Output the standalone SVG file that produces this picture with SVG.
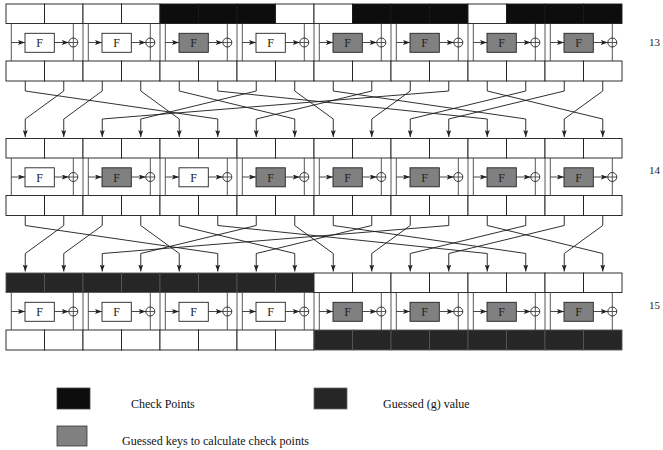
<svg xmlns="http://www.w3.org/2000/svg" xmlns:xlink="http://www.w3.org/1999/xlink" width="663" height="450" viewBox="0 0 663 450">
<style>
.cell{stroke:#1a1a1a;stroke-width:0.9}
.w{fill:#ffffff}
.cp{fill:#0d0d0d}
.gv{fill:#262626;stroke:#555}
.ml{stroke:#444;stroke-width:0.9;fill:none}
.ar{stroke:#333;stroke-width:0.9;fill:none;marker-end:url(#ah)}
.fw{fill:#ffffff;stroke:#222;stroke-width:0.9}
.fg{fill:#808080;stroke:#222;stroke-width:0.9}
.xo{fill:none;stroke:#222;stroke-width:0.9}
.ft{font-family:"Liberation Serif",serif;font-size:12px;fill:#222;text-anchor:middle}
.lb{font-family:"Liberation Serif",serif;font-size:11px;fill:#222}
.lg{font-family:"Liberation Serif",serif;font-size:12px;fill:#111}
.pm{stroke:#1a1a1a;stroke-width:0.9;fill:none;marker-end:url(#ah)}
</style>
<defs>
<marker id="ah" markerWidth="7" markerHeight="5" refX="7" refY="2.5" orient="auto" markerUnits="userSpaceOnUse">
<path d="M0,0 L7,2.5 L0,5 L1.5,2.5 z" fill="#222"/>
</marker>
</defs>

<!-- Round 13 -->
<g id="round13">
<g id="r13-top">
<rect class="cell w" x="6" y="4" width="38.5" height="19.5"/>
<rect class="cell w" x="44.5" y="4" width="38.5" height="19.5"/>
<rect class="cell w" x="83" y="4" width="38.5" height="19.5"/>
<rect class="cell w" x="121.5" y="4" width="38.5" height="19.5"/>
<rect class="cell cp" x="160" y="4" width="38.5" height="19.5"/>
<rect class="cell cp" x="198.5" y="4" width="38.5" height="19.5"/>
<rect class="cell cp" x="237" y="4" width="38.5" height="19.5"/>
<rect class="cell w" x="275.5" y="4" width="38.5" height="19.5"/>
<rect class="cell w" x="314" y="4" width="38.5" height="19.5"/>
<rect class="cell cp" x="352.5" y="4" width="38.5" height="19.5"/>
<rect class="cell cp" x="391" y="4" width="38.5" height="19.5"/>
<rect class="cell cp" x="429.5" y="4" width="38.5" height="19.5"/>
<rect class="cell w" x="468" y="4" width="38.5" height="19.5"/>
<rect class="cell cp" x="506.5" y="4" width="38.5" height="19.5"/>
<rect class="cell cp" x="545" y="4" width="38.5" height="19.5"/>
<rect class="cell cp" x="583.5" y="4" width="38.5" height="19.5"/>
</g>
<g id="r13-bottom">
<rect class="cell w" x="6" y="61" width="38.5" height="20"/>
<rect class="cell w" x="44.5" y="61" width="38.5" height="20"/>
<rect class="cell w" x="83" y="61" width="38.5" height="20"/>
<rect class="cell w" x="121.5" y="61" width="38.5" height="20"/>
<rect class="cell w" x="160" y="61" width="38.5" height="20"/>
<rect class="cell w" x="198.5" y="61" width="38.5" height="20"/>
<rect class="cell w" x="237" y="61" width="38.5" height="20"/>
<rect class="cell w" x="275.5" y="61" width="38.5" height="20"/>
<rect class="cell w" x="314" y="61" width="38.5" height="20"/>
<rect class="cell w" x="352.5" y="61" width="38.5" height="20"/>
<rect class="cell w" x="391" y="61" width="38.5" height="20"/>
<rect class="cell w" x="429.5" y="61" width="38.5" height="20"/>
<rect class="cell w" x="468" y="61" width="38.5" height="20"/>
<rect class="cell w" x="506.5" y="61" width="38.5" height="20"/>
<rect class="cell w" x="545" y="61" width="38.5" height="20"/>
<rect class="cell w" x="583.5" y="61" width="38.5" height="20"/>
</g>
<g id="r13-b0" transform="translate(6,4)"><path class="ml" d="M5.3 19.5V57M67.3 19.5V57M62.8 38.5H71.8"/><path class="ar" d="M5.3 38.5H19"/><rect class="fw" x="19" y="29.3" width="29.3" height="19"/><text class="ft" x="33.6" y="43.3">F</text><path class="ar" d="M48.3 38.5H62.8"/><circle class="xo" cx="67.3" cy="38.5" r="4.5"/></g>
<g id="r13-b1" transform="translate(83,4)"><path class="ml" d="M0 19.5V57M5.3 19.5V57M67.3 19.5V57M62.8 38.5H71.8"/><path class="ar" d="M5.3 38.5H19"/><rect class="fw" x="19" y="29.3" width="29.3" height="19"/><text class="ft" x="33.6" y="43.3">F</text><path class="ar" d="M48.3 38.5H62.8"/><circle class="xo" cx="67.3" cy="38.5" r="4.5"/></g>
<g id="r13-b2" transform="translate(160,4)"><path class="ml" d="M0 19.5V57M5.3 19.5V57M67.3 19.5V57M62.8 38.5H71.8"/><path class="ar" d="M5.3 38.5H19"/><rect class="fg" x="19" y="29.3" width="29.3" height="19"/><text class="ft" x="33.6" y="43.3">F</text><path class="ar" d="M48.3 38.5H62.8"/><circle class="xo" cx="67.3" cy="38.5" r="4.5"/></g>
<g id="r13-b3" transform="translate(237,4)"><path class="ml" d="M0 19.5V57M5.3 19.5V57M67.3 19.5V57M62.8 38.5H71.8"/><path class="ar" d="M5.3 38.5H19"/><rect class="fw" x="19" y="29.3" width="29.3" height="19"/><text class="ft" x="33.6" y="43.3">F</text><path class="ar" d="M48.3 38.5H62.8"/><circle class="xo" cx="67.3" cy="38.5" r="4.5"/></g>
<g id="r13-b4" transform="translate(314,4)"><path class="ml" d="M0 19.5V57M5.3 19.5V57M67.3 19.5V57M62.8 38.5H71.8"/><path class="ar" d="M5.3 38.5H19"/><rect class="fg" x="19" y="29.3" width="29.3" height="19"/><text class="ft" x="33.6" y="43.3">F</text><path class="ar" d="M48.3 38.5H62.8"/><circle class="xo" cx="67.3" cy="38.5" r="4.5"/></g>
<g id="r13-b5" transform="translate(391,4)"><path class="ml" d="M0 19.5V57M5.3 19.5V57M67.3 19.5V57M62.8 38.5H71.8"/><path class="ar" d="M5.3 38.5H19"/><rect class="fg" x="19" y="29.3" width="29.3" height="19"/><text class="ft" x="33.6" y="43.3">F</text><path class="ar" d="M48.3 38.5H62.8"/><circle class="xo" cx="67.3" cy="38.5" r="4.5"/></g>
<g id="r13-b6" transform="translate(468,4)"><path class="ml" d="M0 19.5V57M5.3 19.5V57M67.3 19.5V57M62.8 38.5H71.8"/><path class="ar" d="M5.3 38.5H19"/><rect class="fg" x="19" y="29.3" width="29.3" height="19"/><text class="ft" x="33.6" y="43.3">F</text><path class="ar" d="M48.3 38.5H62.8"/><circle class="xo" cx="67.3" cy="38.5" r="4.5"/></g>
<g id="r13-b7" transform="translate(545,4)"><path class="ml" d="M0 19.5V57M5.3 19.5V57M67.3 19.5V57M62.8 38.5H71.8"/><path class="ar" d="M5.3 38.5H19"/><rect class="fg" x="19" y="29.3" width="29.3" height="19"/><text class="ft" x="33.6" y="43.3">F</text><path class="ar" d="M48.3 38.5H62.8"/><circle class="xo" cx="67.3" cy="38.5" r="4.5"/></g>
<text class="lb" x="649" y="46">13</text>
</g>

<!-- Round 14 -->
<g id="round14">
<g id="r14-top">
<rect class="cell w" x="6" y="138.5" width="38.5" height="19.5"/>
<rect class="cell w" x="44.5" y="138.5" width="38.5" height="19.5"/>
<rect class="cell w" x="83" y="138.5" width="38.5" height="19.5"/>
<rect class="cell w" x="121.5" y="138.5" width="38.5" height="19.5"/>
<rect class="cell w" x="160" y="138.5" width="38.5" height="19.5"/>
<rect class="cell w" x="198.5" y="138.5" width="38.5" height="19.5"/>
<rect class="cell w" x="237" y="138.5" width="38.5" height="19.5"/>
<rect class="cell w" x="275.5" y="138.5" width="38.5" height="19.5"/>
<rect class="cell w" x="314" y="138.5" width="38.5" height="19.5"/>
<rect class="cell w" x="352.5" y="138.5" width="38.5" height="19.5"/>
<rect class="cell w" x="391" y="138.5" width="38.5" height="19.5"/>
<rect class="cell w" x="429.5" y="138.5" width="38.5" height="19.5"/>
<rect class="cell w" x="468" y="138.5" width="38.5" height="19.5"/>
<rect class="cell w" x="506.5" y="138.5" width="38.5" height="19.5"/>
<rect class="cell w" x="545" y="138.5" width="38.5" height="19.5"/>
<rect class="cell w" x="583.5" y="138.5" width="38.5" height="19.5"/>
</g>
<g id="r14-bottom">
<rect class="cell w" x="6" y="195.5" width="38.5" height="20"/>
<rect class="cell w" x="44.5" y="195.5" width="38.5" height="20"/>
<rect class="cell w" x="83" y="195.5" width="38.5" height="20"/>
<rect class="cell w" x="121.5" y="195.5" width="38.5" height="20"/>
<rect class="cell w" x="160" y="195.5" width="38.5" height="20"/>
<rect class="cell w" x="198.5" y="195.5" width="38.5" height="20"/>
<rect class="cell w" x="237" y="195.5" width="38.5" height="20"/>
<rect class="cell w" x="275.5" y="195.5" width="38.5" height="20"/>
<rect class="cell w" x="314" y="195.5" width="38.5" height="20"/>
<rect class="cell w" x="352.5" y="195.5" width="38.5" height="20"/>
<rect class="cell w" x="391" y="195.5" width="38.5" height="20"/>
<rect class="cell w" x="429.5" y="195.5" width="38.5" height="20"/>
<rect class="cell w" x="468" y="195.5" width="38.5" height="20"/>
<rect class="cell w" x="506.5" y="195.5" width="38.5" height="20"/>
<rect class="cell w" x="545" y="195.5" width="38.5" height="20"/>
<rect class="cell w" x="583.5" y="195.5" width="38.5" height="20"/>
</g>
<g id="r14-b0" transform="translate(6,138.5)"><path class="ml" d="M5.3 19.5V57M67.3 19.5V57M62.8 38.5H71.8"/><path class="ar" d="M5.3 38.5H19"/><rect class="fw" x="19" y="29.3" width="29.3" height="19"/><text class="ft" x="33.6" y="43.3">F</text><path class="ar" d="M48.3 38.5H62.8"/><circle class="xo" cx="67.3" cy="38.5" r="4.5"/></g>
<g id="r14-b1" transform="translate(83,138.5)"><path class="ml" d="M0 19.5V57M5.3 19.5V57M67.3 19.5V57M62.8 38.5H71.8"/><path class="ar" d="M5.3 38.5H19"/><rect class="fg" x="19" y="29.3" width="29.3" height="19"/><text class="ft" x="33.6" y="43.3">F</text><path class="ar" d="M48.3 38.5H62.8"/><circle class="xo" cx="67.3" cy="38.5" r="4.5"/></g>
<g id="r14-b2" transform="translate(160,138.5)"><path class="ml" d="M0 19.5V57M5.3 19.5V57M67.3 19.5V57M62.8 38.5H71.8"/><path class="ar" d="M5.3 38.5H19"/><rect class="fw" x="19" y="29.3" width="29.3" height="19"/><text class="ft" x="33.6" y="43.3">F</text><path class="ar" d="M48.3 38.5H62.8"/><circle class="xo" cx="67.3" cy="38.5" r="4.5"/></g>
<g id="r14-b3" transform="translate(237,138.5)"><path class="ml" d="M0 19.5V57M5.3 19.5V57M67.3 19.5V57M62.8 38.5H71.8"/><path class="ar" d="M5.3 38.5H19"/><rect class="fg" x="19" y="29.3" width="29.3" height="19"/><text class="ft" x="33.6" y="43.3">F</text><path class="ar" d="M48.3 38.5H62.8"/><circle class="xo" cx="67.3" cy="38.5" r="4.5"/></g>
<g id="r14-b4" transform="translate(314,138.5)"><path class="ml" d="M0 19.5V57M5.3 19.5V57M67.3 19.5V57M62.8 38.5H71.8"/><path class="ar" d="M5.3 38.5H19"/><rect class="fg" x="19" y="29.3" width="29.3" height="19"/><text class="ft" x="33.6" y="43.3">F</text><path class="ar" d="M48.3 38.5H62.8"/><circle class="xo" cx="67.3" cy="38.5" r="4.5"/></g>
<g id="r14-b5" transform="translate(391,138.5)"><path class="ml" d="M0 19.5V57M5.3 19.5V57M67.3 19.5V57M62.8 38.5H71.8"/><path class="ar" d="M5.3 38.5H19"/><rect class="fg" x="19" y="29.3" width="29.3" height="19"/><text class="ft" x="33.6" y="43.3">F</text><path class="ar" d="M48.3 38.5H62.8"/><circle class="xo" cx="67.3" cy="38.5" r="4.5"/></g>
<g id="r14-b6" transform="translate(468,138.5)"><path class="ml" d="M0 19.5V57M5.3 19.5V57M67.3 19.5V57M62.8 38.5H71.8"/><path class="ar" d="M5.3 38.5H19"/><rect class="fg" x="19" y="29.3" width="29.3" height="19"/><text class="ft" x="33.6" y="43.3">F</text><path class="ar" d="M48.3 38.5H62.8"/><circle class="xo" cx="67.3" cy="38.5" r="4.5"/></g>
<g id="r14-b7" transform="translate(545,138.5)"><path class="ml" d="M0 19.5V57M5.3 19.5V57M67.3 19.5V57M62.8 38.5H71.8"/><path class="ar" d="M5.3 38.5H19"/><rect class="fg" x="19" y="29.3" width="29.3" height="19"/><text class="ft" x="33.6" y="43.3">F</text><path class="ar" d="M48.3 38.5H62.8"/><circle class="xo" cx="67.3" cy="38.5" r="4.5"/></g>
<text class="lb" x="649" y="174">14</text>
</g>

<!-- Round 15 -->
<g id="round15">
<g id="r15-top">
<rect class="cell gv" x="6" y="273" width="38.5" height="19.5"/>
<rect class="cell gv" x="44.5" y="273" width="38.5" height="19.5"/>
<rect class="cell gv" x="83" y="273" width="38.5" height="19.5"/>
<rect class="cell gv" x="121.5" y="273" width="38.5" height="19.5"/>
<rect class="cell gv" x="160" y="273" width="38.5" height="19.5"/>
<rect class="cell gv" x="198.5" y="273" width="38.5" height="19.5"/>
<rect class="cell gv" x="237" y="273" width="38.5" height="19.5"/>
<rect class="cell gv" x="275.5" y="273" width="38.5" height="19.5"/>
<rect class="cell w" x="314" y="273" width="38.5" height="19.5"/>
<rect class="cell w" x="352.5" y="273" width="38.5" height="19.5"/>
<rect class="cell w" x="391" y="273" width="38.5" height="19.5"/>
<rect class="cell w" x="429.5" y="273" width="38.5" height="19.5"/>
<rect class="cell w" x="468" y="273" width="38.5" height="19.5"/>
<rect class="cell w" x="506.5" y="273" width="38.5" height="19.5"/>
<rect class="cell w" x="545" y="273" width="38.5" height="19.5"/>
<rect class="cell w" x="583.5" y="273" width="38.5" height="19.5"/>
</g>
<g id="r15-bottom">
<rect class="cell w" x="6" y="330" width="38.5" height="20"/>
<rect class="cell w" x="44.5" y="330" width="38.5" height="20"/>
<rect class="cell w" x="83" y="330" width="38.5" height="20"/>
<rect class="cell w" x="121.5" y="330" width="38.5" height="20"/>
<rect class="cell w" x="160" y="330" width="38.5" height="20"/>
<rect class="cell w" x="198.5" y="330" width="38.5" height="20"/>
<rect class="cell w" x="237" y="330" width="38.5" height="20"/>
<rect class="cell w" x="275.5" y="330" width="38.5" height="20"/>
<rect class="cell gv" x="314" y="330" width="38.5" height="20"/>
<rect class="cell gv" x="352.5" y="330" width="38.5" height="20"/>
<rect class="cell gv" x="391" y="330" width="38.5" height="20"/>
<rect class="cell gv" x="429.5" y="330" width="38.5" height="20"/>
<rect class="cell gv" x="468" y="330" width="38.5" height="20"/>
<rect class="cell gv" x="506.5" y="330" width="38.5" height="20"/>
<rect class="cell gv" x="545" y="330" width="38.5" height="20"/>
<rect class="cell gv" x="583.5" y="330" width="38.5" height="20"/>
</g>
<g id="r15-b0" transform="translate(6,273)"><path class="ml" d="M5.3 19.5V57M67.3 19.5V57M62.8 38.5H71.8"/><path class="ar" d="M5.3 38.5H19"/><rect class="fw" x="19" y="29.3" width="29.3" height="19"/><text class="ft" x="33.6" y="43.3">F</text><path class="ar" d="M48.3 38.5H62.8"/><circle class="xo" cx="67.3" cy="38.5" r="4.5"/></g>
<g id="r15-b1" transform="translate(83,273)"><path class="ml" d="M0 19.5V57M5.3 19.5V57M67.3 19.5V57M62.8 38.5H71.8"/><path class="ar" d="M5.3 38.5H19"/><rect class="fw" x="19" y="29.3" width="29.3" height="19"/><text class="ft" x="33.6" y="43.3">F</text><path class="ar" d="M48.3 38.5H62.8"/><circle class="xo" cx="67.3" cy="38.5" r="4.5"/></g>
<g id="r15-b2" transform="translate(160,273)"><path class="ml" d="M0 19.5V57M5.3 19.5V57M67.3 19.5V57M62.8 38.5H71.8"/><path class="ar" d="M5.3 38.5H19"/><rect class="fw" x="19" y="29.3" width="29.3" height="19"/><text class="ft" x="33.6" y="43.3">F</text><path class="ar" d="M48.3 38.5H62.8"/><circle class="xo" cx="67.3" cy="38.5" r="4.5"/></g>
<g id="r15-b3" transform="translate(237,273)"><path class="ml" d="M0 19.5V57M5.3 19.5V57M67.3 19.5V57M62.8 38.5H71.8"/><path class="ar" d="M5.3 38.5H19"/><rect class="fw" x="19" y="29.3" width="29.3" height="19"/><text class="ft" x="33.6" y="43.3">F</text><path class="ar" d="M48.3 38.5H62.8"/><circle class="xo" cx="67.3" cy="38.5" r="4.5"/></g>
<g id="r15-b4" transform="translate(314,273)"><path class="ml" d="M0 19.5V57M5.3 19.5V57M67.3 19.5V57M62.8 38.5H71.8"/><path class="ar" d="M5.3 38.5H19"/><rect class="fg" x="19" y="29.3" width="29.3" height="19"/><text class="ft" x="33.6" y="43.3">F</text><path class="ar" d="M48.3 38.5H62.8"/><circle class="xo" cx="67.3" cy="38.5" r="4.5"/></g>
<g id="r15-b5" transform="translate(391,273)"><path class="ml" d="M0 19.5V57M5.3 19.5V57M67.3 19.5V57M62.8 38.5H71.8"/><path class="ar" d="M5.3 38.5H19"/><rect class="fg" x="19" y="29.3" width="29.3" height="19"/><text class="ft" x="33.6" y="43.3">F</text><path class="ar" d="M48.3 38.5H62.8"/><circle class="xo" cx="67.3" cy="38.5" r="4.5"/></g>
<g id="r15-b6" transform="translate(468,273)"><path class="ml" d="M0 19.5V57M5.3 19.5V57M67.3 19.5V57M62.8 38.5H71.8"/><path class="ar" d="M5.3 38.5H19"/><rect class="fg" x="19" y="29.3" width="29.3" height="19"/><text class="ft" x="33.6" y="43.3">F</text><path class="ar" d="M48.3 38.5H62.8"/><circle class="xo" cx="67.3" cy="38.5" r="4.5"/></g>
<g id="r15-b7" transform="translate(545,273)"><path class="ml" d="M0 19.5V57M5.3 19.5V57M67.3 19.5V57M62.8 38.5H71.8"/><path class="ar" d="M5.3 38.5H19"/><rect class="fg" x="19" y="29.3" width="29.3" height="19"/><text class="ft" x="33.6" y="43.3">F</text><path class="ar" d="M48.3 38.5H62.8"/><circle class="xo" cx="67.3" cy="38.5" r="4.5"/></g>
<text class="lb" x="649" y="309">15</text>
</g>

<!-- Connectors: block shuffle -->
<g id="connectors">
<path class="pm" d="M25.25 81V91L217.75 119V137"/>
<path class="pm" d="M63.75 81V91L25.25 119V137"/>
<path class="pm" d="M102.25 81V91L63.75 119V137"/>
<path class="pm" d="M140.75 81V91L179.25 119V137"/>
<path class="pm" d="M179.25 81V91L294.75 119V137"/>
<path class="pm" d="M217.75 81V91L487.25 119V137"/>
<path class="pm" d="M256.25 81V91L140.75 119V137"/>
<path class="pm" d="M294.75 81V91L333.25 119V137"/>
<path class="pm" d="M333.25 81V91L525.75 119V137"/>
<path class="pm" d="M371.75 81V91L256.25 119V137"/>
<path class="pm" d="M410.25 81V91L371.75 119V137"/>
<path class="pm" d="M448.75 81V91L102.25 119V137"/>
<path class="pm" d="M487.25 81V91L602.75 119V137"/>
<path class="pm" d="M525.75 81V91L410.25 119V137"/>
<path class="pm" d="M564.25 81V91L448.75 119V137"/>
<path class="pm" d="M602.75 81V91L564.25 119V137"/>

<path class="pm" d="M25.25 215.5V225.5L217.75 253.5V271.5"/>
<path class="pm" d="M63.75 215.5V225.5L25.25 253.5V271.5"/>
<path class="pm" d="M102.25 215.5V225.5L63.75 253.5V271.5"/>
<path class="pm" d="M140.75 215.5V225.5L179.25 253.5V271.5"/>
<path class="pm" d="M179.25 215.5V225.5L294.75 253.5V271.5"/>
<path class="pm" d="M217.75 215.5V225.5L487.25 253.5V271.5"/>
<path class="pm" d="M256.25 215.5V225.5L140.75 253.5V271.5"/>
<path class="pm" d="M294.75 215.5V225.5L333.25 253.5V271.5"/>
<path class="pm" d="M333.25 215.5V225.5L525.75 253.5V271.5"/>
<path class="pm" d="M371.75 215.5V225.5L256.25 253.5V271.5"/>
<path class="pm" d="M410.25 215.5V225.5L371.75 253.5V271.5"/>
<path class="pm" d="M448.75 215.5V225.5L102.25 253.5V271.5"/>
<path class="pm" d="M487.25 215.5V225.5L602.75 253.5V271.5"/>
<path class="pm" d="M525.75 215.5V225.5L410.25 253.5V271.5"/>
<path class="pm" d="M564.25 215.5V225.5L448.75 253.5V271.5"/>
<path class="pm" d="M602.75 215.5V225.5L564.25 253.5V271.5"/>
</g>

<!-- Legend -->
<g id="legend">
<g id="legend-checkpoints">
<rect x="57" y="388" width="33" height="21" fill="#0d0d0d" stroke="#444" stroke-width="0.8"/>
<text class="lg" x="131" y="408">Check Points</text>
</g>
<g id="legend-guessed-value">
<rect x="314" y="388" width="33" height="21" fill="#262626" stroke="#666" stroke-width="0.8"/>
<text class="lg" x="383" y="408">Guessed (g) value</text>
</g>
<g id="legend-guessed-keys">
<rect x="57" y="426" width="30" height="20" fill="#808080" stroke="#333" stroke-width="0.8"/>
<text class="lg" x="122" y="445">Guessed keys to calculate check points</text>
</g>
</g>
</svg>
